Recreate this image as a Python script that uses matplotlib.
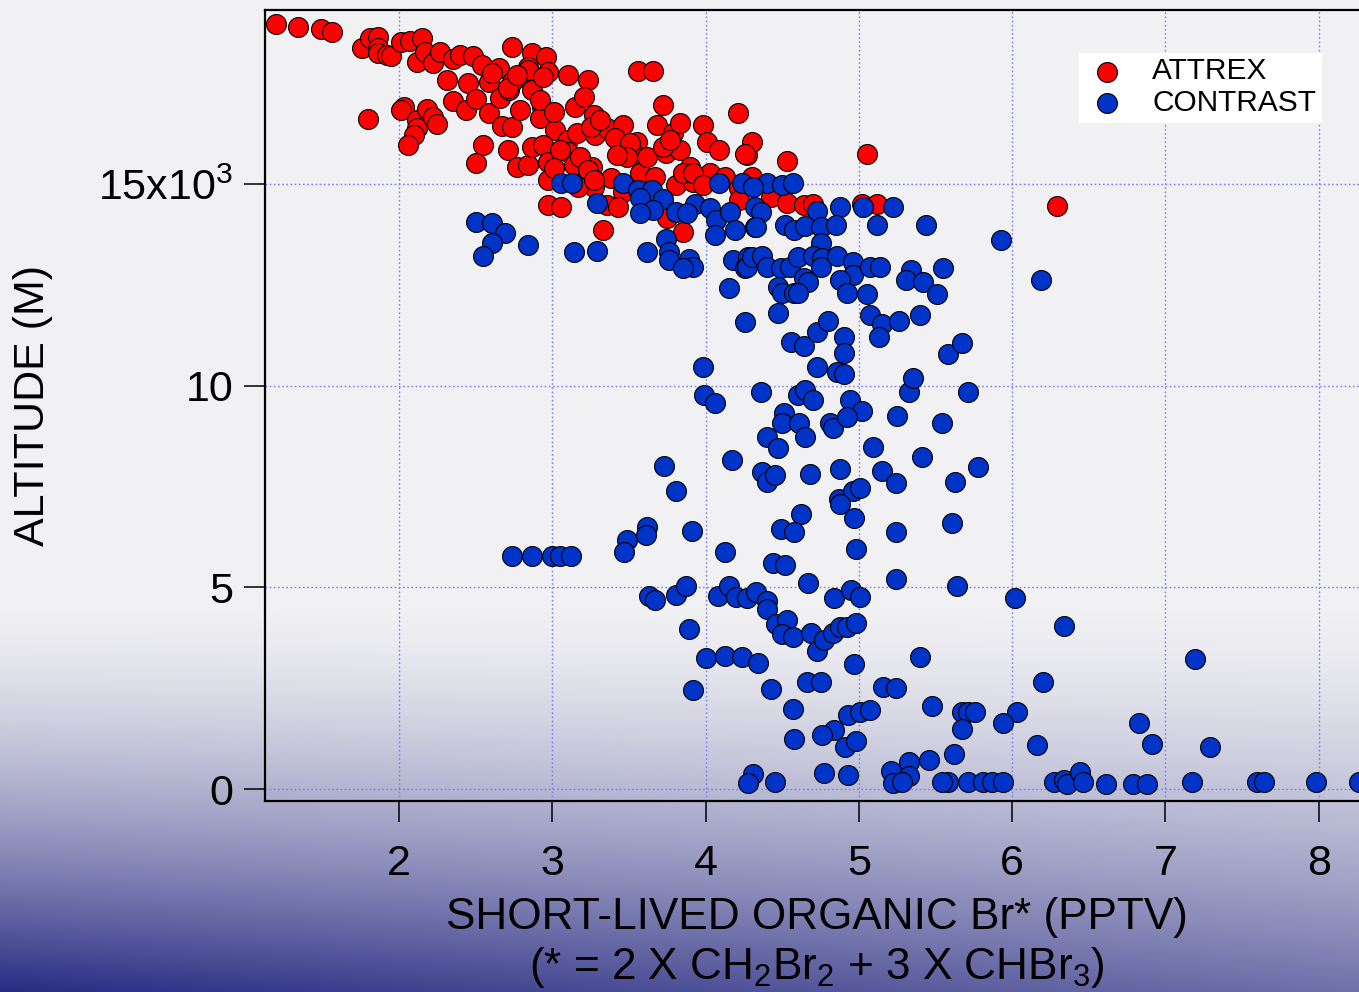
import numpy as np
import matplotlib
matplotlib.use('Agg')
import matplotlib.pyplot as plt

plt.rcParams['font.family'] = ['Liberation Sans', 'DejaVu Sans']
plt.rcParams['mathtext.fontset'] = 'custom'
plt.rcParams['mathtext.rm'] = 'Liberation Sans'
plt.rcParams['mathtext.it'] = 'Liberation Sans:italic'
plt.rcParams['mathtext.bf'] = 'Liberation Sans:bold'
plt.rcParams['mathtext.default'] = 'rm'

# ATTREX (red) - Br* in pptv, altitude in m
attrex_x = [
    1.20, 1.34, 1.49, 1.56, 1.76, 1.81, 1.86, 1.86, 1.86, 1.92, 1.95, 2.01, 2.07, 2.15, 2.12, 2.17,
    2.22, 2.27, 2.35, 2.40, 2.48, 2.54, 2.65, 2.74, 2.87, 2.96, 2.97, 3.10, 3.23, 3.56, 3.66,
    1.80, 2.03, 2.01, 2.12, 2.12, 2.10, 2.06, 2.18, 2.22, 2.25, 2.31, 2.35, 2.44, 2.45, 2.50, 2.59,
    2.59, 2.66, 2.67, 2.72, 2.74, 2.79, 2.84, 2.87, 2.79, 2.93, 2.99, 2.92, 3.02, 3.10, 3.16, 3.15,
    3.21, 3.27, 3.28, 3.36, 3.46, 3.41, 3.49, 3.55, 3.59, 3.68, 3.72, 3.74, 3.79, 3.83, 3.83, 3.98,
    4.01, 4.09, 4.21, 4.27, 4.30,
    2.55, 2.50, 2.71, 2.77, 2.84, 2.87, 2.94, 2.97, 2.97, 3.10, 3.14, 3.26, 3.27, 3.38, 3.46, 3.57,
    3.67, 3.81, 3.90, 3.92, 4.03, 4.13, 4.22, 4.30,
    2.97, 3.06, 3.33, 3.36, 3.43, 3.85, 3.75,
    4.26, 4.53, 5.05, 4.43, 4.53, 4.64, 4.70, 5.02, 5.12, 4.22, 6.29,
    2.61, 2.74, 2.71, 2.84, 2.77, 2.94, 2.92, 3.01, 3.25, 3.31, 3.51, 3.49, 3.42, 3.62, 3.72, 3.77,
    3.85, 3.92, 3.98, 3.18, 3.23, 3.05, 3.01, 3.17, 3.27,
]
attrex_y = [
    18980, 18905, 18856, 18781, 18384, 18632, 18657, 18384, 18260, 18211, 18186, 18533, 18558, 18632, 18037, 18285,
    18012, 18285, 18111, 18211, 18186, 17962, 17888, 18409, 18260, 18161, 17789, 17714, 17590, 17814, 17814,
    16623, 16920, 16846, 16598, 16399, 16226, 15978, 16871, 16672, 16499, 17590, 17069, 16846, 17516, 17119, 17541,
    16772, 17144, 16449, 17342, 16424, 17665, 17913, 17342, 16846, 16920, 16772, 16648, 16350, 16102, 16275, 16920,
    17169, 16722, 16226, 16399, 16474, 16151, 15779, 16052, 15680, 16474, 16970, 15779, 16275, 16523, 15854, 16474,
    16052, 15854, 16772, 15730, 16052,
    15978, 15531, 15854, 15432, 15481, 15928, 15978, 15556, 15109, 15804, 15481, 15432, 14936, 15159, 14812, 15283,
    15184, 14985, 15432, 15060, 15283, 15184, 14911, 15184,
    14489, 14439, 13869, 14489, 14439, 13819, 14167,
    15754, 15581, 15754, 14688, 14539, 14489, 14514, 14514, 14514, 14613, 14464,
    17764, 17541, 17392, 17838, 17714, 17665, 17094, 16796, 16424, 16598, 16027, 15680, 15730, 15680, 15928, 16102,
    15283, 15283, 14985, 15680, 15357, 15854, 15407, 14936, 15109,
]

# CONTRAST (blue)
contrast_x = [
    3.06, 3.13, 3.46, 3.56, 3.65, 3.57, 3.72, 3.29, 3.66, 3.57,
    3.81, 3.93, 3.88, 4.03, 4.09, 4.24, 4.40, 4.50, 4.57, 4.31,
    4.07, 4.16, 4.06, 4.19, 4.32, 2.50, 2.61, 2.69, 2.61, 2.55,
    2.84, 3.14, 3.29, 3.62, 3.74, 3.76, 3.76, 3.89, 3.92, 3.85,
    4.18, 4.28, 4.26, 4.15, 4.32, 4.36, 4.73, 4.88, 5.03, 5.22,
    4.33, 4.52, 4.58, 4.65, 4.75, 4.85, 5.12, 5.44, 4.75, 5.93,
    6.19, 4.27, 4.30, 4.37, 4.40, 4.49, 4.55, 4.60, 4.70, 4.76,
    4.75, 4.86, 4.96, 4.96, 4.88, 4.92, 5.05, 5.07, 5.14, 4.47,
    4.50, 4.58, 4.64, 4.67, 4.60, 5.34, 5.31, 5.42, 5.51, 5.55,
    4.26, 4.47, 5.07, 5.15, 5.26, 5.13, 5.40, 4.56, 4.64, 4.73,
    4.80, 4.90, 4.90, 4.73, 4.86, 4.90, 5.58, 5.67, 3.98, 3.99,
    4.06, 4.36, 4.60, 4.65, 4.70, 4.51, 4.50, 4.61, 4.65, 4.40,
    4.47, 4.81, 4.83, 4.94, 5.02, 4.92, 5.25, 5.33, 5.35, 5.71,
    5.54, 4.17, 4.37, 4.40, 4.45, 4.68, 4.88, 5.09, 5.15, 5.24,
    5.41, 5.63, 5.78, 4.87, 4.96, 5.01, 3.73, 3.81, 4.88, 4.97,
    5.61, 5.24, 4.98, 4.62, 4.49, 4.58, 4.44, 4.52, 4.67, 5.24,
    5.64, 3.62, 3.49, 3.47, 3.61, 3.91, 4.13, 2.74, 2.87, 3.00,
    3.05, 3.12, 3.63, 3.67, 3.81, 3.87, 4.08, 4.15, 4.20, 4.27,
    4.33, 4.40, 4.40, 4.46, 4.53, 4.50, 4.57, 4.69, 4.73, 4.77,
    4.83, 4.88, 4.92, 4.98, 4.84, 4.95, 5.01, 3.89, 4.00, 4.13,
    4.24, 4.34, 4.97, 5.40, 3.92, 4.43, 4.66, 4.75, 5.16, 5.24,
    4.57, 4.93, 5.01, 5.07, 4.84, 4.76, 4.91, 4.98, 4.58, 5.48,
    5.67, 5.71, 5.76, 6.03, 5.94, 5.67, 5.62, 5.46, 5.33, 5.21,
    5.33, 5.22, 5.28, 4.31, 4.28, 4.45, 4.77, 4.93, 5.58, 5.54,
    5.71, 5.81, 5.87, 5.94, 6.27, 6.34, 6.36, 6.44, 6.46, 6.61,
    6.79, 6.88, 7.17, 7.60, 7.64, 7.98, 8.26, 6.02, 6.34, 7.19,
    6.20, 6.16, 6.83, 6.91, 7.29,
]
contrast_y = [
    15035, 15035, 15035, 14861, 14861, 14663, 14638, 14539, 14365, 14291,
    14315, 14514, 14291, 14415, 15035, 15035, 15035, 14985, 15035, 14936,
    14117, 14315, 13745, 13869, 13943, 14067, 14042, 13794, 13546, 13224,
    13497, 13323, 13348, 13323, 13646, 13323, 13124, 13149, 12951, 12926,
    13124, 13199, 12926, 12430, 14439, 14315, 14340, 14439, 14439, 14439,
    13943, 13993, 13869, 13968, 13943, 13993, 13993, 13993, 13546, 13620,
    12628, 12951, 13199, 13224, 12951, 12926, 12951, 13199, 13224, 13174,
    12951, 13224, 13075, 12752, 12628, 12306, 12281, 12951, 12951, 12455,
    12306, 12306, 12678, 12579, 12306, 12876, 12628, 12579, 12281, 12926,
    11586, 11810, 11760, 11537, 11611, 11214, 11760, 11090, 10991, 11338,
    11611, 11214, 10817, 10470, 10346, 10296, 10792, 11065, 10470, 9775,
    9577, 9850, 9775, 9899, 9651, 9329, 9080, 9080, 8733, 8733,
    8460, 9080, 8956, 9651, 9378, 9229, 9254, 9850, 10197, 9850,
    9080, 8162, 7865, 7617, 7790, 7815, 7939, 8485, 7890, 7592,
    8237, 7617, 7989, 7195, 7393, 7468, 8014, 7393, 7071, 6724,
    6599, 6376, 5954, 6823, 6451, 6376, 5607, 5557, 5111, 5210,
    5036, 6500, 6178, 5880, 6302, 6401, 5880, 5781, 5781, 5781,
    5781, 5781, 4788, 4689, 4813, 5036, 4788, 5036, 4764, 4739,
    4888, 4664, 4466, 4094, 4193, 3846, 3771, 3870, 3424, 3697,
    3870, 4019, 4019, 4118, 4739, 4937, 4764, 3970, 3250, 3300,
    3275, 3126, 3101, 3275, 2456, 2481, 2655, 2655, 2531, 2506,
    1985, 1836, 1910, 1960, 1464, 1340, 1042, 1191, 1241, 2059,
    1910, 1910, 1910, 1910, 1637, 1489, 868, 719, 670, 447,
    323, 149, 174, 372, 149, 174, 397, 347, 174, 174,
    174, 174, 174, 174, 174, 223, 124, 422, 174, 124,
    124, 124, 174, 174, 174, 174, 174, 4739, 4044, 3225,
    2655, 1092, 1637, 1116, 1042,
]

x_ticks = [2, 3, 4, 5, 6, 7, 8]
y_ticks = [0, 5000, 10000, 15000]
y_tick_labels = ['0', '5', '10', r'15x10$^{3}$']

W, H = 1359, 992
fig = plt.figure(figsize=(W / 100, H / 100), dpi=100)

# slide-style background: light grey fading into a blue swoosh at the bottom
yy, xx = np.mgrid[0:1:H * 1j, 0:1:W * 1j]
t = np.clip((yy - 0.6) / 0.4, 0, 1)
d = t ** 1.5 * (1 - 0.35 * xx)
light = np.array([0.949, 0.949, 0.957])
navy = np.array([0.16, 0.17, 0.51])
img = light * (1 - d[..., None]) + navy * d[..., None]
bg = fig.add_axes([0, 0, 1, 1], zorder=0)
bg.imshow(img, aspect='auto', extent=[0, 1, 0, 1])
bg.axis('off')

ax = fig.add_axes([0.195, 0.1925, 0.8205, 0.7974], zorder=1)
ax.set_facecolor('none')
ax.set_xlim(1.126, 8.40)
ax.set_ylim(-298, 19327)

ax.grid(True, color='#7b7bff', linestyle=(0, (1.2, 1.8)), linewidth=1.0)
ax.set_axisbelow(True)

ax.scatter(attrex_x, attrex_y, s=205, c='#ff0000', edgecolors='black',
           linewidths=0.8, label='ATTREX', zorder=3)
ax.scatter(contrast_x, contrast_y, s=205, c='#0033c8', edgecolors='black',
           linewidths=0.8, label='CONTRAST', zorder=4)

ax.set_xticks(x_ticks)
ax.set_xticklabels([str(v) for v in x_ticks])
ax.set_yticks(y_ticks)
ax.set_yticklabels(y_tick_labels)
ax.tick_params(axis='x', direction='out', length=15, width=1.1, pad=16, labelsize=31)
ax.tick_params(axis='y', direction='out', length=15, width=1.1, pad=8, labelsize=31)
ax.spines['right'].set_visible(False)
for s in ['left', 'bottom', 'top']:
    ax.spines[s].set_linewidth(1.6)

fig.text(817 / W, 1 - 918 / H, 'SHORT-LIVED ORGANIC Br* (PPTV)',
         ha='center', va='center', fontsize=31.8)
fig.text(817 / W, 1 - 968 / H, r'(* = 2 X CH$_2$Br$_2$ + 3 X CHBr$_3$)',
         ha='center', va='center', fontsize=31.8)
fig.text(33 / W, 1 - 406 / H, 'ALTITUDE (M)', rotation=90,
         ha='center', va='center', fontsize=31)

ax.legend(loc='upper left', bbox_to_anchor=(1079 / W, 1 - 53 / H),
          bbox_transform=fig.transFigure, frameon=True, fancybox=False,
          framealpha=1, facecolor='white', edgecolor='white', fontsize=21.5,
          borderaxespad=0, borderpad=0.15, labelspacing=0.12,
          handletextpad=0.7, handlelength=1.6, scatterpoints=1)

fig.savefig('out.png', dpi=100)
